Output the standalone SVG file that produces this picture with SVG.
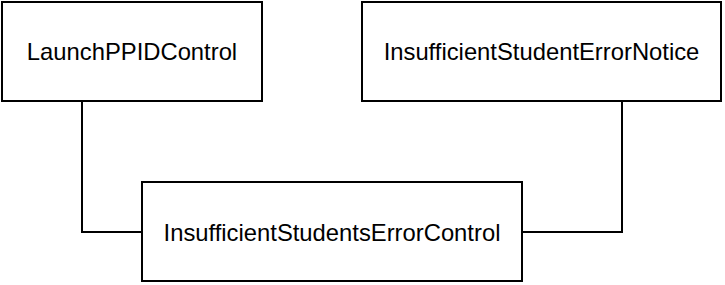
<svg xmlns="http://www.w3.org/2000/svg" width="725" height="285" viewBox="0 0 725 285">
  <style>
    .box { fill: #ffffff; stroke: #000000; stroke-width: 2; }
    .label { font-family: "Liberation Sans", Arial, Helvetica, sans-serif; font-size: 23.8px; fill: #000000; text-anchor: middle; }
    .wire { fill: none; stroke: #000000; stroke-width: 2; }
  </style>
  <rect width="725" height="285" fill="#ffffff"/>
  <g id="connectors">
    <polyline class="wire" points="82,101 82,232 142,232"/>
    <polyline class="wire" points="622,101 622,232 522,232"/>
  </g>
  <g id="launch-ppid-control">
    <rect class="box" x="2" y="2" width="260" height="99"/>
    <text class="label" x="132" y="60">LaunchPPIDControl</text>
  </g>
  <g id="insufficient-student-error-notice">
    <rect class="box" x="362" y="2" width="359" height="99"/>
    <text class="label" x="541.5" y="60">InsufficientStudentErrorNotice</text>
  </g>
  <g id="insufficient-students-error-control">
    <rect class="box" x="142" y="182" width="380" height="99"/>
    <text class="label" x="332" y="240.5">InsufficientStudentsErrorControl</text>
  </g>
</svg>
